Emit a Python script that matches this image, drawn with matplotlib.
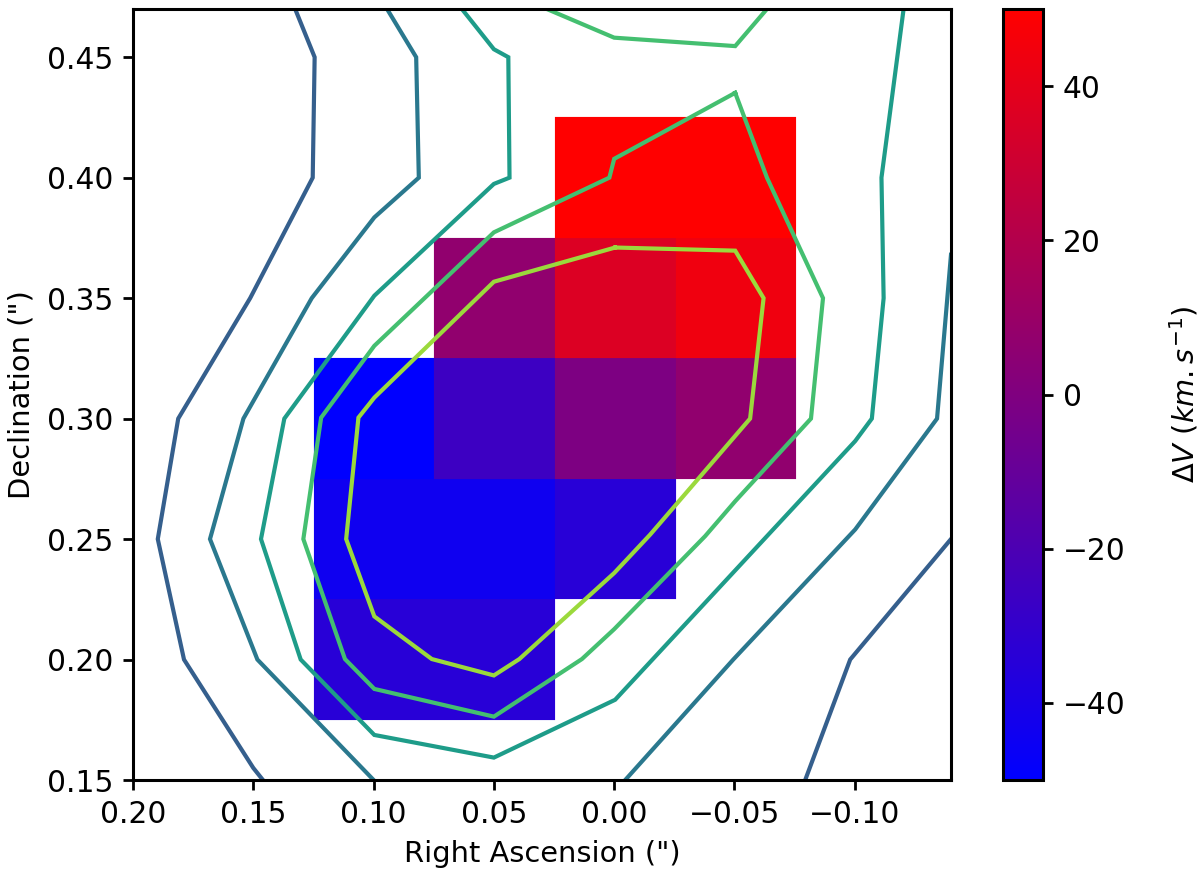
import numpy as np
import matplotlib
matplotlib.use("Agg")
import matplotlib.pyplot as plt
from matplotlib.colors import LinearSegmentedColormap

# Velocity map
ra_edges = [0.1247, 0.0748, 0.0247, -0.0255, -0.0757]
dec_edges = [0.175, 0.225, 0.275, 0.325, 0.375, 0.425]
dv_row_020 = [-34, -34, np.nan, np.nan]
dv_row_025 = [-44, -44, -34, np.nan]
dv_row_030 = [-50, -26, -1, 7]
dv_row_035 = [np.nan, 7, 36, 44]
dv_row_040 = [np.nan, np.nan, 50, 50]

# Contours: (RA, Dec) polylines, lowest level to highest
l1a_ra = [.1326, .1245, .1253, .1513, .1812, .1897, .1788, .15, .146]
l1a_de = [.47, .45, .40, .35, .30, .25, .20, .155, .15]
l1b_ra = [-.0794, -.0981, -.14]
l1b_de = [.15, .20, .25]

l2a_ra = [.0944, .0823, .0812, .0997, .1257, .1541, .168, .1483, .10]
l2a_de = [.47, .45, .40, .3835, .35, .30, .25, .20, .15]
l2b_ra = [-.0046, -.0495, -.1002, -.1342, -.14]
l2b_de = [.15, .20, .254, .30, .368]

l3_ra = [.0633, .05, .044, .0435, .05, .0997, .1371, .1468, .1303, .0997, .05, -.0004,
         -.1002, -.1071, -.112, -.1111, -.1203]
l3_de = [.47, .4533, .45, .40, .3974, .351, .30, .25, .20, .1687, .1593, .1833,
         .2907, .30, .35, .40, .47]

l4a_ra = [.028, 0, -.0503, -.0635]
l4a_de = [.47, .4581, .4546, .47]
l4b_ra = [-.0503, -.0635, -.0868, -.0818, -.0503, -.0378, 0, .0134, .05, .0997, .1119,
          .1292, .1218, .0997, .05, .002, 0, -.0503]
l4b_de = [.4352, .40, .35, .30, .2657, .2512, .2126, .2002, .1763, .1878, .2002,
          .25, .3004, .3302, .3773, .40, .4078, .4352]

l5_ra = [-.0004, -.0503, -.0621, -.0565, -.015, 0, .0394, .05, .0758, .0997, .1114,
         .1063, .0997, .05, -.0004]
l5_de = [.371, .3697, .35, .30, .2519, .2359, .2002, .1934, .2002, .2179, .25,
         .3004, .3087, .3568, .371]

contours = [
    (0.30, [(l1a_ra, l1a_de), (l1b_ra, l1b_de)]),
    (0.40, [(l2a_ra, l2a_de), (l2b_ra, l2b_de)]),
    (0.55, [(l3_ra, l3_de)]),
    (0.70, [(l4a_ra, l4a_de), (l4b_ra, l4b_de)]),
    (0.85, [(l5_ra, l5_de)]),
]

xticks = [0.20, 0.15, 0.10, 0.05, 0.00, -0.05, -0.10]
yticks = [0.15, 0.20, 0.25, 0.30, 0.35, 0.40, 0.45]
cticks = [-40, -20, 0, 20, 40]

W, H = 1200, 873
plt.rcParams.update({
    "font.family": "DejaVu Sans", "font.size": 10.4,
    "xtick.labelsize": 10.7, "ytick.labelsize": 10.7,
    "axes.linewidth": 1.1,
    "xtick.major.width": 1.0, "ytick.major.width": 1.0,
    "xtick.major.size": 3.6, "ytick.major.size": 3.6,
    "mathtext.default": "it",
})
fig = plt.figure(figsize=(W / 200, H / 200), dpi=200)
ax = fig.add_axes([133 / W, 1 - 780 / H, (951 - 133) / W, (780 - 9) / H])
cax = fig.add_axes([1003 / W, 1 - 780 / H, 40 / W, (780 - 9) / H])

cmap = LinearSegmentedColormap.from_list("br", ["#0000ff", "#ff0000"])
dv = np.ma.masked_invalid([dv_row_020, dv_row_025, dv_row_030, dv_row_035, dv_row_040])
mesh = ax.pcolormesh(ra_edges, dec_edges, dv, cmap=cmap, vmin=-50, vmax=50,
                     edgecolors="face", linewidth=0.05, antialiased=True)

viridis = plt.get_cmap("viridis")
for level, pieces in contours:
    for ra, de in pieces:
        ax.plot(ra, de, color=viridis(level), lw=1.5, solid_joinstyle="miter")

ax.set_xlim(0.20, -0.14)
ax.set_ylim(0.15, 0.47)
ax.set_xticks(xticks)
ax.set_yticks(yticks)
ax.set_xticklabels([f"{v:.2f}".replace("-", "\u2212") for v in xticks])
ax.set_yticklabels([f"{v:.2f}" for v in yticks])
ax.set_xlabel('Right Ascension (")', labelpad=4)
ax.set_ylabel('Declination (")', labelpad=4)

cb = fig.colorbar(mesh, cax=cax, ticks=cticks)
cb.ax.set_yticklabels([str(v).replace("-", "\u2212") for v in cticks])
cb.set_label(r"$\Delta V\ (km.s^{-1})$", labelpad=15)
cb.outline.set_linewidth(1.1)

fig.savefig("out.png", dpi=200)
